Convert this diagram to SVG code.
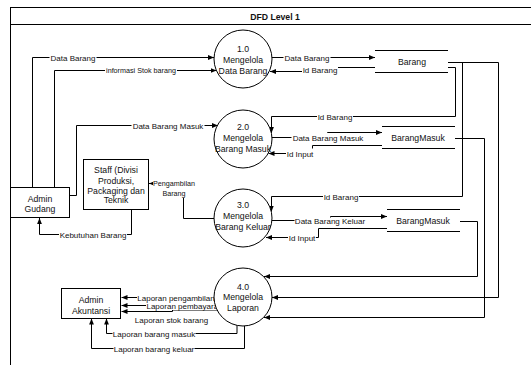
<svg xmlns="http://www.w3.org/2000/svg" width="531" height="365" viewBox="0 0 531 365">
<style>
text{font-family:"Liberation Sans",Arial,sans-serif;fill:#111;text-anchor:middle}
.n{font-size:8.7px}
.e{font-size:8px}
.s{font-size:7.2px}
.t{font-size:8.7px;font-weight:bold}
.ln{fill:none;stroke:#000;stroke-width:1}
.c{fill:none;stroke:#000;stroke-width:1;marker-end:url(#arr)}
.bg{fill:#fff}
.box{fill:#fff;stroke:#000;stroke-width:1}
</style>
<defs>
<marker id="arr" viewBox="0 0 6 6" refX="6" refY="3" markerWidth="6" markerHeight="6" orient="auto" markerUnits="userSpaceOnUse">
<path d="M0,0.6 L6,3 L0,5.4 z" fill="#000"/>
</marker>
</defs>
<rect width="531" height="365" fill="#fff"/>
<g id="frame">
<rect x="10.5" y="7.5" width="540" height="370" class="ln"/>
<path d="M10.5 24.5 H551" class="ln"/>
<text x="275" y="19.5" class="t">DFD Level 1</text>
</g>
<g id="connectors">
<path d="M32.5 187 V57.5 H214" class="c"/>
<path d="M54.5 187 V70.5 H216.5" class="c"/>
<path d="M69.5 195.5 H76.5 V125.5 H218" class="c"/>
<path d="M214 218.5 H183.5 V183.5 H149" class="c"/>
<path d="M131.5 209.5 V234.5 H39.5 V218" class="c"/>
<path d="M272 57.5 H375" class="c"/>
<path d="M375 67.5 H322.5 V71.5 H270" class="c"/>
<path d="M448 67.5 H455.5 V116.5 H271.5 V133" class="c"/>
<path d="M272 137.5 H327.5 V132.5 H382" class="c"/>
<path d="M382 145.5 H312.5 V153.5 H268.5" class="c"/>
<path d="M448 62.5 H462.5 V196.5 H271.5 V211.5" class="c"/>
<path d="M272 220.5 H330.5 V216.5 H387" class="c"/>
<path d="M387 228.5 H318.5 V237.5 H266" class="c"/>
<path d="M460 221.5 H477.5 V276.5 H264" class="c"/>
<path d="M448 62.5 H498.5 V297.5 H272" class="c"/>
<path d="M455 138.5 H484.5 V317.5 H264" class="c"/>
<path d="M214 297.5 H121.5" class="c"/>
<path d="M216 305.5 H121.5" class="c"/>
<path d="M218 310 H172.5 V311.5 H121.5" class="c"/>
<path d="M237 325 V333.5 H106.5 V318.5" class="c"/>
<path d="M244.5 326 V348.5 H91.5 V318.5" class="c"/>
<rect x="49.5" y="52.5" width="47" height="10" class="bg"/><text x="73" y="60.5" class="e">Data Barang</text>
<rect x="105" y="65.5" width="72" height="10" class="bg"/><text x="141" y="73" class="s">informasi Stok barang</text>
<rect x="131.5" y="120.5" width="73" height="10" class="bg"/><text x="168" y="128.5" class="e">Data Barang Masuk</text>
<rect x="153" y="178" width="42" height="20" class="bg"/><text x="174" y="185.5" class="s">Pengambilan</text><text x="174" y="195.5" class="s">Barang</text>
<rect x="59" y="229.5" width="68" height="10" class="bg"/><text x="93" y="237.5" class="e">Kebutuhan Barang</text>
<rect x="283.5" y="52.5" width="47" height="10" class="bg"/><text x="307" y="60.5" class="e">Data Barang</text>
<rect x="302" y="64.5" width="36" height="10" class="bg"/><text x="320" y="72.5" class="e">Id Barang</text>
<rect x="317" y="111.5" width="36" height="10" class="bg"/><text x="335" y="119.5" class="e">Id Barang</text>
<rect x="291.5" y="133" width="73" height="9" class="bg"/><text x="328" y="140.5" class="e">Data Barang Masuk</text>
<rect x="286" y="148.5" width="28" height="10" class="bg"/><text x="300" y="156.5" class="e">Id Input</text>
<rect x="323" y="191.5" width="36" height="10" class="bg"/><text x="341" y="199.5" class="e">Id Barang</text>
<rect x="294.5" y="217.5" width="71" height="9" class="bg"/><text x="330" y="224" class="e">Data Barang Keluar</text>
<rect x="288" y="232.5" width="28" height="10" class="bg"/><text x="302" y="240.5" class="e">Id Input</text>
<rect x="146" y="302" width="77" height="8" class="bg"/><text x="184.5" y="308.5" class="e">Laporan pembayaran</text>
<rect x="137" y="293" width="78" height="9" class="bg"/><text x="176" y="300.5" class="e">Laporan pengambilan</text>
<text x="171.5" y="322.5" class="e">Laporan stok barang</text>
<rect x="112.5" y="328.5" width="83" height="10" class="bg"/><text x="154" y="336.5" class="e">Laporan barang masuk</text>
<rect x="113.5" y="343.5" width="81" height="10" class="bg"/><text x="154" y="351.5" class="e">Laporan barang keluar</text>
</g>
<g id="p1">
<circle cx="243" cy="59" r="29" class="box"/>
<text x="243" y="52" class="n">1.0</text><text x="243" y="63" class="n">Mengelola</text><text x="243" y="73.5" class="n">Data Barang</text>
</g>
<g id="p2">
<circle cx="243" cy="139" r="29" class="box"/>
<text x="243" y="130" class="n">2.0</text><text x="243" y="141" class="n">Mengelola</text><text x="243" y="151.5" class="n">Barang Masuk</text>
</g>
<g id="p3">
<circle cx="243" cy="218" r="29" class="box"/>
<text x="243" y="208" class="n">3.0</text><text x="243" y="219" class="n">Mengelola</text><text x="243" y="229.5" class="n">Barang Keluar</text>
</g>
<g id="p4">
<circle cx="243" cy="297" r="29" class="box"/>
<text x="243" y="289.5" class="n">4.0</text><text x="243" y="300" class="n">Mengelola</text><text x="243" y="310.5" class="n">Laporan</text>
</g>
<g id="admin-gudang">
<rect x="10.5" y="187.5" width="59" height="30" class="box"/>
<text x="40" y="202" class="n">Admin</text><text x="40" y="212" class="n">Gudang</text>
</g>
<g id="staff">
<rect x="83.5" y="159.5" width="65" height="50" class="box"/>
<text x="116" y="173" class="n">Staff (Divisi</text><text x="116" y="183.5" class="n">Produksi,</text><text x="116" y="193.5" class="n">Packaging dan</text><text x="116" y="203" class="n">Teknik</text>
</g>
<g id="admin-akuntansi">
<rect x="61.5" y="288.5" width="59" height="30" class="box"/>
<text x="91" y="303" class="n">Admin</text><text x="91" y="314" class="n">Akuntansi</text>
</g>
<g id="ds-barang">
<path d="M375 50.5 H448 M375 72.5 H448" class="ln"/>
<text x="412" y="64.5" class="n">Barang</text>
</g>
<g id="ds-barangmasuk">
<path d="M382 126.5 H455 M382 148.5 H455" class="ln"/>
<text x="418" y="141" class="n">BarangMasuk</text>
</g>
<g id="ds-barangmasuk-2">
<path d="M387 209.5 H460 M387 231.5 H460" class="ln"/>
<text x="423" y="224" class="n">BarangMasuk</text>
</g>
</svg>
